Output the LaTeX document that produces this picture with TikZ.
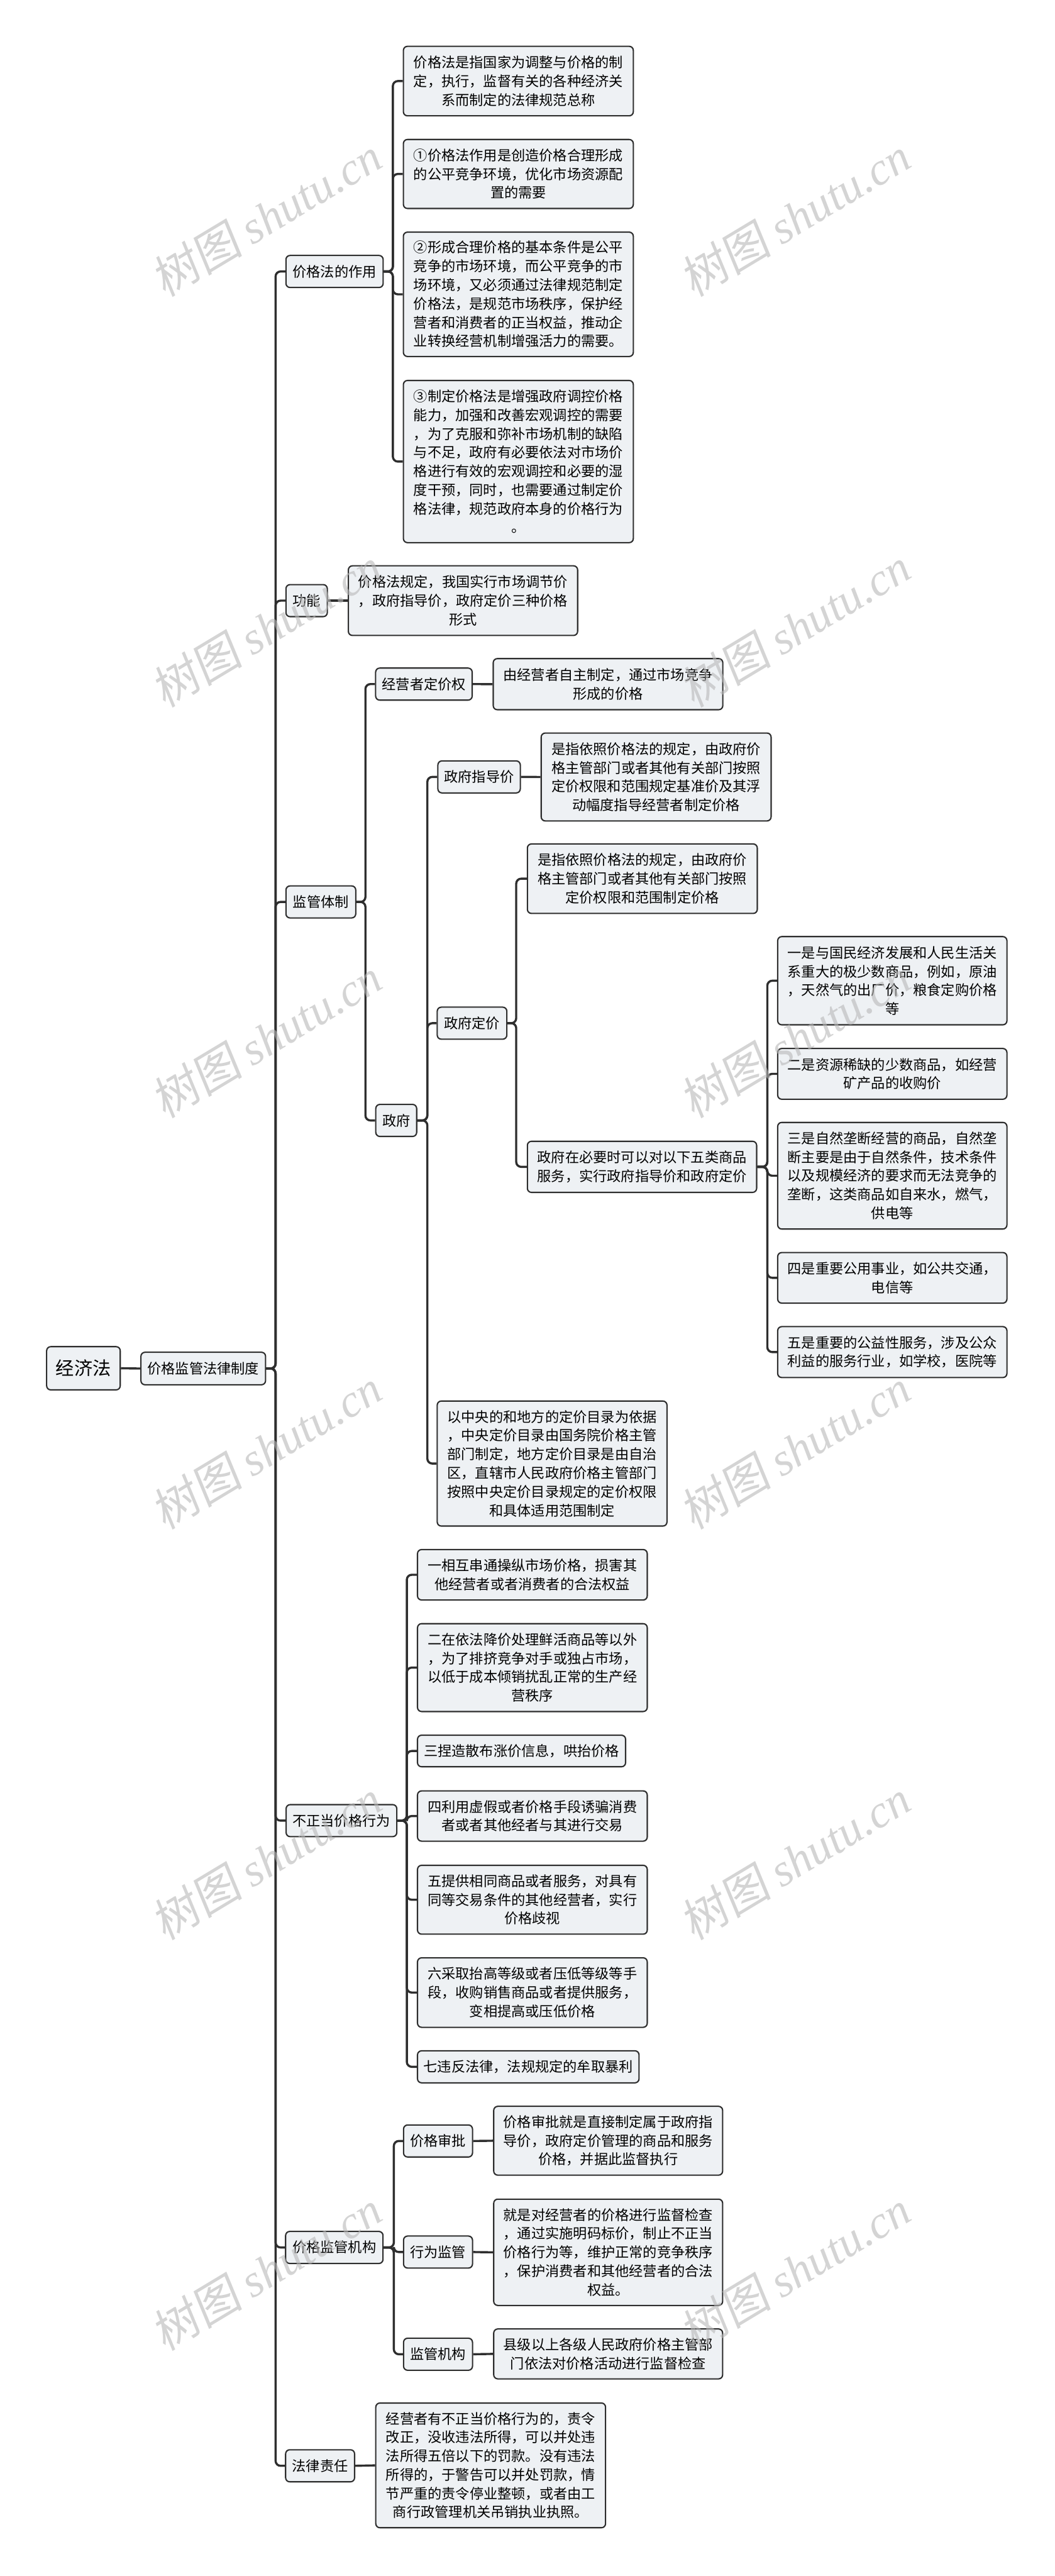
\documentclass[tikz,border=0pt]{standalone}
\usepackage{fontspec}
\setmainfont{Noto Sans CJK SC}
\newfontfamily\wmcjk[FakeSlant=0.15]{Noto Sans CJK SC}
\newfontfamily\wmlat{Liberation Serif}
\definecolor{linec}{HTML}{2E2E2E}
\definecolor{boxfill}{HTML}{EEF1F4}
\definecolor{wmc}{HTML}{B8B8B8}
\tikzset{
  box/.style={draw=linec, line width=0.8pt, fill=boxfill, rounded corners=2.5pt,
    inner sep=0pt, align=center, font=\fontsize{8.5}{11.4}\selectfont},
  lbl/.style={box, minimum height=19.5pt},
  conn/.style={draw=linec, line width=1.3pt, rounded corners=3pt},
  wm/.style={text=wmc, opacity=0.6, rotate=31, inner sep=0pt}
}
\newcommand{\tb}[6]{\node[box, minimum width=#4pt, minimum height=#5pt] (#1) at (#2,#3) {#6};}
\begin{document}
\begin{tikzpicture}[x=1pt,y=-1pt]
\useasboundingbox (0,0) rectangle (642,1568);
\fill[white] (0,0) rectangle (642,1568);
% vertical coordinates
\coordinate (vT) at (167.8,0);
\coordinate (vA) at (239.2,0);
\coordinate (vC) at (222.5,0);
\coordinate (vG) at (260.2,0);
\coordinate (vD) at (314.3,0);
\coordinate (vE) at (467.2,0);
\coordinate (vF) at (247.7,0);
\coordinate (vM) at (239.8,0);

% root and level 1
\node[box, minimum width=44.8pt, minimum height=26.3pt, font=\fontsize{11.2}{13}\selectfont] (root) at (50.8,832.85) {经济法};
\node[lbl, minimum width=75.9pt, minimum height=19.8pt] (L1) at (123.75,833) {价格监管法律制度};

% level 2
\node[lbl, minimum width=59.2pt] (nA) at (203.7,165.25) {价格法的作用};
\node[lbl, minimum width=25.2pt] (nB) at (186.7,365.6) {功能};
\node[lbl, minimum width=42.5pt] (nC) at (195.35,549) {监管体制};
\node[lbl, minimum width=67.4pt] (nD) at (207.9,1108.2) {不正当价格行为};
\node[lbl, minimum width=59.3pt] (nE) at (203.55,1368) {价格监管机构};
\node[lbl, minimum width=42pt] (nF) at (194.9,1500.9) {法律责任};

% level 3 labels
\node[lbl, minimum width=58.8pt] (c1) at (258.1,416.4) {经营者定价权};
\node[lbl, minimum width=24.9pt] (c2) at (241.25,682) {政府};
\node[lbl, minimum width=50.2pt] (d1) at (291.7,472.9) {政府指导价};
\node[lbl, minimum width=42.4pt] (d2) at (287.4,622.8) {政府定价};
\node[lbl, minimum width=42pt] (g1) at (266.7,1303.2) {价格审批};
\node[lbl, minimum width=42pt] (g2) at (266.7,1370.8) {行为监管};
\node[lbl, minimum width=42pt] (g3) at (266.7,1433) {监管机构};

% text boxes
\tb{A1}{315.6}{49.35}{140}{42.3}{价格法是指国家为调整与价格的制\\定，执行，监督有关的各种经济关\\系而制定的法律规范总称}
\tb{A2}{315.6}{105.9}{140}{42}{①价格法作用是创造价格合理形成\\的公平竞争环境，优化市场资源配\\置的需要}
\tb{A3}{315.6}{179.15}{140}{75.7}{②形成合理价格的基本条件是公平\\竞争的市场环境，而公平竞争的市\\场环境，又必须通过法律规范制定\\价格法，是规范市场秩序，保护经\\营者和消费者的正当权益，推动企\\业转换经营机制增强活力的需要。}
\tb{A4}{315.6}{280.95}{140}{98.7}{③制定价格法是增强政府调控价格\\能力，加强和改善宏观调控的需要\\，为了克服和弥补市场机制的缺陷\\与不足，政府有必要依法对市场价\\格进行有效的宏观调控和必要的湿\\度干预，同时，也需要通过制定价\\格法律，规范政府本身的价格行为\\。}
\tb{B1}{281.9}{365.6}{139.6}{42.4}{价格法规定，我国实行市场调节价\\，政府指导价，政府定价三种价格\\形式}
\tb{C1}{370.2}{416.45}{139.8}{31.1}{由经营者自主制定，通过市场竞争\\形成的价格}
\tb{C2}{399.5}{472.95}{140}{53.5}{是指依照价格法的规定，由政府价\\格主管部门或者其他有关部门按照\\定价权限和范围规定基准价及其浮\\动幅度指导经营者制定价格}
\tb{D1}{391.1}{534.85}{140}{42.3}{是指依照价格法的规定，由政府价\\格主管部门或者其他有关部门按照\\定价权限和范围制定价格}
\tb{D2}{390.9}{710.25}{139.6}{31.1}{政府在必要时可以对以下五类商品\\服务，实行政府指导价和政府定价}
\tb{E1}{543.3}{596.95}{139.6}{53.7}{一是与国民经济发展和人民生活关\\系重大的极少数商品，例如，原油\\，天然气的出厂价，粮食定购价格\\等}
\tb{E2}{543.3}{653.65}{139.6}{30.9}{二是资源稀缺的少数商品，如经营\\矿产品的收购价}
\tb{E3}{543.3}{715.65}{139.6}{64.9}{三是自然垄断经营的商品，自然垄\\断主要是由于自然条件，技术条件\\以及规模经济的要求而无法竞争的\\垄断，这类商品如自来水，燃气，\\供电等}
\tb{E4}{543.3}{777.8}{139.6}{30.8}{四是重要公用事业，如公共交通，\\电信等}
\tb{E5}{543.3}{823}{139.6}{31}{五是重要的公益性服务，涉及公众\\利益的服务行业，如学校，医院等}
\tb{D3}{336.15}{890.85}{139.9}{76.1}{以中央的和地方的定价目录为依据\\，中央定价目录由国务院价格主管\\部门制定，地方定价目录是由自治\\区，直辖市人民政府价格主管部门\\按照中央定价目录规定的定价权限\\和具体适用范围制定}
\tb{F1}{324.15}{958.55}{139.9}{30.7}{一相互串通操纵市场价格，损害其\\他经营者或者消费者的合法权益}
\tb{F2}{324.15}{1015.05}{139.9}{53.5}{二在依法降价处理鲜活商品等以外\\，为了排挤竞争对手或独占市场，\\以低于成本倾销扰乱正常的生产经\\营秩序}
\tb{F3}{317.55}{1065.8}{126.7}{19.2}{三捏造散布涨价信息，哄抬价格}
\tb{F4}{324.15}{1105.4}{139.9}{30.6}{四利用虚假或者价格手段诱骗消费\\者或者其他经者与其进行交易}
\tb{F5}{324.15}{1156.35}{139.9}{41.9}{五提供相同商品或者服务，对具有\\同等交易条件的其他经营者，实行\\价格歧视}
\tb{F6}{324.15}{1212.85}{139.9}{42.3}{六采取抬高等级或者压低等级等手\\段，收购销售商品或者提供服务，\\变相提高或压低价格}
\tb{F7}{321.65}{1258.05}{134.9}{19.5}{七违反法律，法规规定的牟取暴利}
\tb{G1}{370.3}{1303.05}{139.4}{41.9}{价格审批就是直接制定属于政府指\\导价，政府定价管理的商品和服务\\价格，并据此监督执行}
\tb{G2}{370.3}{1370.95}{139.4}{64.7}{就是对经营者的价格进行监督检查\\，通过实施明码标价，制止不正当\\价格行为等，维护正常的竞争秩序\\，保护消费者和其他经营者的合法\\权益。}
\tb{G3}{370.3}{1432.8}{139.4}{30.4}{县级以上各级人民政府价格主管部\\门依法对价格活动进行监督检查}
\tb{H}{298.75}{1500.65}{139.9}{75.9}{经营者有不正当价格行为的，责令\\改正，没收违法所得，可以并处违\\法所得五倍以下的罚款。没有违法\\所得的，于警告可以并处罚款，情\\节严重的责令停业整顿，或者由工\\商行政管理机关吊销执业执照。}

% connectors
\begin{scope}[on background layer/.style={}]
\draw[conn] (root.east) -- (L1.west);
\foreach \c in {nA,nB,nC,nD,nE,nF}
  \draw[conn] (L1.east) -- (vT|-L1.east) |- (\c.west);
\foreach \c in {A1,A2,A3,A4}
  \draw[conn] (nA.east) -- (vA|-nA.east) |- (\c.west);
\draw[conn] (nB.east) -- (B1.west);
\foreach \c in {c1,c2}
  \draw[conn] (nC.east) -- (vC|-nC.east) |- (\c.west);
\draw[conn] (c1.east) -- (C1.west);
\foreach \c in {d1,d2,D3}
  \draw[conn] (c2.east) -- (vG|-c2.east) |- (\c.west);
\draw[conn] (d1.east) -- (C2.west);
\foreach \c in {D1,D2}
  \draw[conn] (d2.east) -- (vD|-d2.east) |- (\c.west);
\foreach \c in {E1,E2,E3,E4,E5}
  \draw[conn] (D2.east) -- (vE|-D2.east) |- (\c.west);
\foreach \c in {F1,F2,F3,F4,F5,F6,F7}
  \draw[conn] (nD.east) -- (vF|-nD.east) |- (\c.west);
\foreach \c in {g1,g2,g3}
  \draw[conn] (nE.east) -- (vM|-nE.east) |- (\c.west);
\draw[conn] (g1.east) -- (G1.west);
\draw[conn] (g2.east) -- (G2.west);
\draw[conn] (g3.east) -- (G3.west);
\draw[conn] (nF.east) -- (H.west);
\end{scope}

% watermarks
\foreach \r [count=\i] in {132,382,632,882,1132,1382} {
  \node[wm] (wmL\i) at (162,\r) {\fontsize{28}{30}\selectfont\wmcjk 树图 \wmlat\itshape shutu.cn};
  \node[wm] (wmR\i) at (484,\r) {\fontsize{28}{30}\selectfont\wmcjk 树图 \wmlat\itshape shutu.cn};
}
\end{tikzpicture}
\end{document}
